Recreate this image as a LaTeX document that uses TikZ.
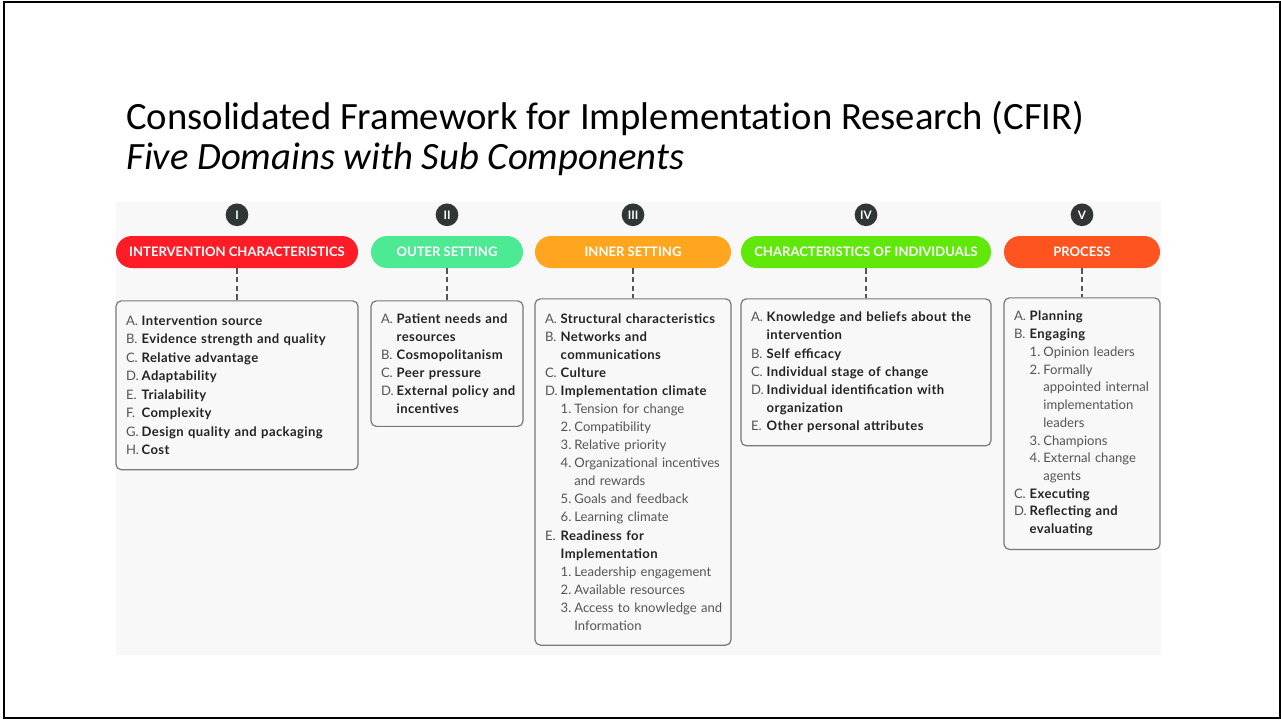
\documentclass[tikz,border=0pt]{standalone}
\usepackage{fontspec}
\setmainfont{Carlito}[Ligatures=NoCommon]
\newfontfamily\cfirfont{Lato}[BoldFeatures={LetterSpace=3}]
\newfontfamily\pillfont{Lato}
\usepackage{tikz}
\usetikzlibrary{positioning}

\definecolor{cfirred}{RGB}{255,28,38}
\definecolor{cfirgreen}{RGB}{76,234,146}
\definecolor{cfirorange}{RGB}{255,165,30}
\definecolor{cfirlime}{RGB}{96,232,10}
\definecolor{cfirprocess}{RGB}{255,84,32}
\definecolor{numdark}{RGB}{48,53,53}
\definecolor{panelgray}{RGB}{248,248,248}
\definecolor{boxline}{RGB}{120,120,120}
\definecolor{itemdark}{RGB}{35,35,35}
\definecolor{itemgray}{RGB}{85,85,85}

% list entries: letter items, numbered sub items, and their continuation lines
\newcommand{\itA}[2]{\mbox{\makebox[1.2em][l]{#1}\textbf{\color{itemdark}#2}}}
\newcommand{\itAc}[1]{\mbox{\hspace*{1.2em}\textbf{\color{itemdark}#1}}}
\newcommand{\itN}[2]{\mbox{\hspace*{1.2em}\makebox[1.05em][l]{#1}#2}}
\newcommand{\itNc}[1]{\mbox{\hspace*{2.25em}#1}}

\begin{document}
\begin{tikzpicture}[x=0.75pt,y=-0.75pt,
	pill/.style={rounded corners=12pt, minimum height=24pt, inner sep=0pt, text=white,
		font=\pillfont\bfseries\fontsize{9.8}{11}\selectfont},
	numeral/.style={circle, fill=numdark, minimum size=17pt, inner sep=0pt, text=white,
		font=\pillfont\bfseries\fontsize{8.8}{9}\selectfont},
	listbox/.style={draw=boxline, line width=0.9pt, rounded corners=4pt, align=left,
		inner xsep=7.5pt, inner ysep=11pt, text=itemgray,
		font=\cfirfont\fontsize{9.8}{13.55}\selectfont},
	dashlink/.style={draw=itemgray, line width=0.9pt, dash pattern=on 4pt off 2.5pt}]

	\useasboundingbox (0,0) rectangle (1281,719);
	\draw[line width=2pt] (4,2) rectangle (1280,718); %slide frame
	\fill[panelgray] (116,202) rectangle (1161,655); %figure panel

	\node[anchor=base west, inner sep=0pt, font=\fontsize{29}{34}\selectfont] (title) at (126,129)
		{Consolidated Framework for Implementation Research (CFIR)};
	\node[anchor=base west, inner sep=0pt, font=\fontsize{29}{34}\selectfont\itshape] (subtitle) at (126,169)
		{Five Domains with Sub Components};

	% domain headers
	\node[pill, fill=cfirred, minimum width=181.5pt] (dI) at (237,252) {INTERVENTION CHARACTERISTICS};
	\node[pill, fill=cfirgreen, minimum width=114pt] (dII) at (447,252) {OUTER SETTING};
	\node[pill, fill=cfirorange, minimum width=147pt] (dIII) at (633,252) {INNER SETTING};
	\node[pill, fill=cfirlime, minimum width=187.5pt] (dIV) at (866,252) {CHARACTERISTICS OF INDIVIDUALS};
	\node[pill, fill=cfirprocess, minimum width=117pt] (dV) at (1082,252) {PROCESS};

	\node[numeral, above=7pt of dI] (nI) {I};
	\node[numeral, above=7pt of dII] (nII) {II};
	\node[numeral, above=7pt of dIII] (nIII) {III};
	\node[numeral, above=7pt of dIV] (nIV) {IV};
	\node[numeral, above=7pt of dV] (nV) {V};

	% sub components
	\node[listbox, text width=166.5pt, below=24pt of dI, font=\cfirfont\fontsize{9.8}{13.9}\selectfont] (bI) {%
		\itA{A.}{Intervention source}\\
		\itA{B.}{Evidence strength and quality}\\
		\itA{C.}{Relative advantage}\\
		\itA{D.}{Adaptability}\\
		\itA{E.}{Trialability}\\
		\itA{F.}{Complexity}\\
		\itA{G.}{Design quality and packaging}\\
		\itA{H.}{Cost}};

	\node[listbox, text width=99pt, below=24pt of dII, inner ysep=9.5pt] (bII) {%
		\itA{A.}{Patient needs and}\\
		\itAc{resources}\\
		\itA{B.}{Cosmopolitanism}\\
		\itA{C.}{Peer pressure}\\
		\itA{D.}{External policy and}\\
		\itAc{incentives}};

	\node[listbox, text width=132pt, below=22.5pt of dIII] (bIII) {%
		\itA{A.}{Structural characteristics}\\
		\itA{B.}{Networks and}\\
		\itAc{communications}\\
		\itA{C.}{Culture}\\
		\itA{D.}{Implementation climate}\\
		\itN{1.}{Tension for change}\\
		\itN{2.}{Compatibility}\\
		\itN{3.}{Relative priority}\\
		\itN{4.}{Organizational incentives}\\
		\itNc{and rewards}\\
		\itN{5.}{Goals and feedback}\\
		\itN{6.}{Learning climate}\\
		\itA{E.}{Readiness for}\\
		\itAc{Implementation}\\
		\itN{1.}{Leadership engagement}\\
		\itN{2.}{Available resources}\\
		\itN{3.}{Access to knowledge and}\\
		\itNc{Information}};

	\node[listbox, text width=172.5pt, below=22.5pt of dIV, inner ysep=10pt] (bIV) {%
		\itA{A.}{Knowledge and beliefs about the}\\
		\itAc{intervention}\\
		\itA{B.}{Self efficacy}\\
		\itA{C.}{Individual stage of change}\\
		\itA{D.}{Individual identification with}\\
		\itAc{organization}\\
		\itA{E.}{Other personal attributes}};

	\node[listbox, text width=102pt, below=21.75pt of dV, inner ysep=10pt,
		font=\cfirfont\fontsize{9.8}{13.3}\selectfont] (bV) {%
		\itA{A.}{Planning}\\
		\itA{B.}{Engaging}\\
		\itN{1.}{Opinion leaders}\\
		\itN{2.}{Formally}\\
		\itNc{appointed internal}\\
		\itNc{implementation}\\
		\itNc{leaders}\\
		\itN{3.}{Champions}\\
		\itN{4.}{External change}\\
		\itNc{agents}\\
		\itA{C.}{Executing}\\
		\itA{D.}{Reflecting and}\\
		\itAc{evaluating}};

	\draw[dashlink] (dI) -- (bI);
	\draw[dashlink] (dII) -- (bII);
	\draw[dashlink] (dIII) -- (bIII);
	\draw[dashlink] (dIV) -- (bIV);
	\draw[dashlink] (dV) -- (bV);

\end{tikzpicture}
\end{document}
